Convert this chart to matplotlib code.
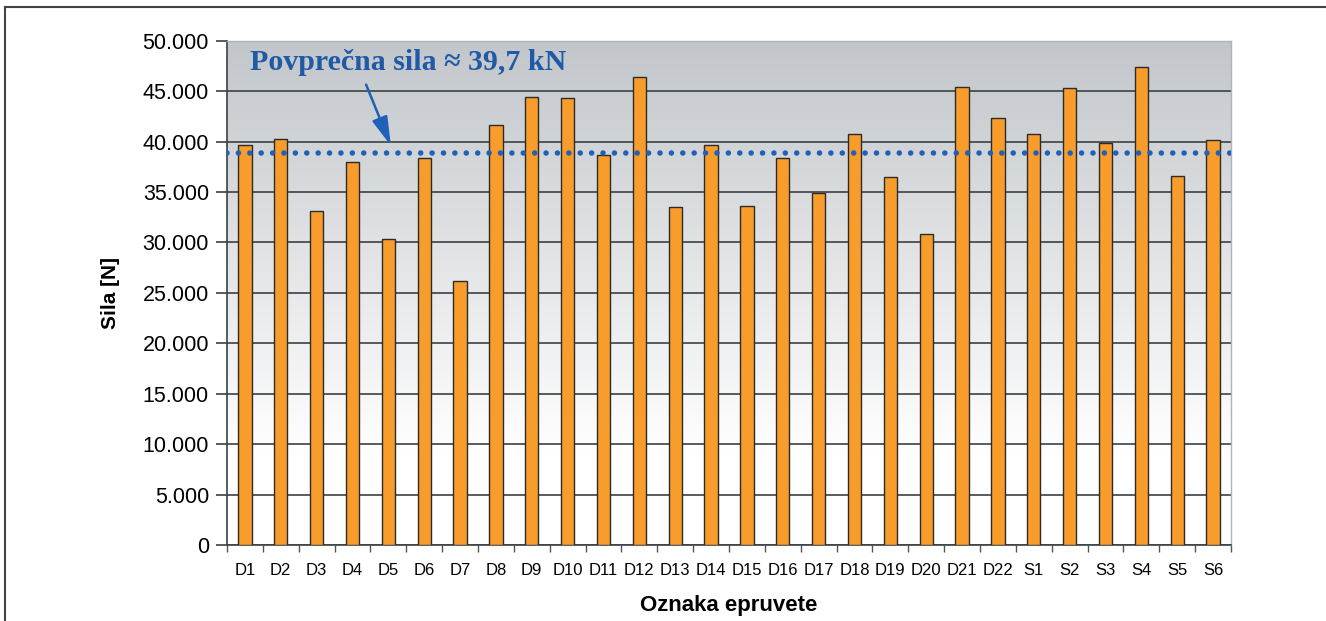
import numpy as np
import matplotlib
matplotlib.use('Agg')
import matplotlib.pyplot as plt
from matplotlib.lines import Line2D
from matplotlib.colors import LinearSegmentedColormap
from matplotlib.ticker import FuncFormatter, MultipleLocator

# measured maximum force per specimen [N]
labels = ['D1', 'D2', 'D3', 'D4', 'D5', 'D6', 'D7', 'D8', 'D9', 'D10', 'D11',
          'D12', 'D13', 'D14', 'D15', 'D16', 'D17', 'D18', 'D19', 'D20', 'D21',
          'D22', 'S1', 'S2', 'S3', 'S4', 'S5', 'S6']
sila = [39700, 40300, 33100, 38000, 30350, 38400, 26200, 41600, 44400, 44300,
        38700, 46400, 33500, 39700, 33600, 38400, 34900, 40700, 36500, 30800,
        45400, 42300, 40700, 45300, 39900, 47400, 36600, 40200]
y_max = 50000
y_step = 5000

fig = plt.figure(figsize=(13.26, 6.21), dpi=100)
ax = fig.add_axes([227 / 1326, 1 - 545 / 621, (1231 - 227) / 1326, (545 - 40.7) / 621])

x = np.arange(len(labels))

# grey-to-white background
top = np.array([194, 198, 202]) / 255
cmap = LinearSegmentedColormap.from_list('bg', [(0.0, 'white'), (0.18, 'white'), (1.0, top)])
grad = np.linspace(0, 1, 256).reshape(-1, 1)
ax.imshow(grad, cmap=cmap, aspect='auto', origin='lower',
          extent=[-0.5, len(labels) - 0.5, 0, y_max], zorder=0)

ax.set_axisbelow(True)
ax.yaxis.grid(True, color='#3c4145', linewidth=1.2, zorder=1)

ax.bar(x, sila, width=0.37, color='#f89c2c', edgecolor='#2b2b2b', linewidth=1.0, zorder=3)

# average line
avg = np.mean(sila)
ax.axhline(avg, color='#2060b8', linewidth=4, linestyle=(0, (0.001, 2.05)),
           dash_capstyle='round', zorder=4)

ax.annotate('', xy=(4.1, avg + 500), xytext=(3.35, 45900),
            arrowprops=dict(arrowstyle='-|>,head_length=0.8,head_width=0.22',
                            mutation_scale=22, color='#2060b8', lw=1.8), zorder=5)
ax.text(0.14, 47800, 'Povprečna sila \u2248 39,7 kN', family='Liberation Serif',
        fontsize=21.5, fontweight='bold', color='#1f5aa6', va='center', ha='left', zorder=5)

ax.set_xlim(-0.5, len(labels) - 0.5)
ax.set_ylim(0, y_max)
ax.yaxis.set_major_locator(MultipleLocator(y_step))
ax.yaxis.set_major_formatter(FuncFormatter(lambda v, p: f'{int(v):,}'.replace(',', '.')))

ax.set_xticks(x)
ax.set_xticklabels(labels, family='Liberation Sans', fontsize=12)
ax.set_xticks(np.arange(-0.5, len(labels)), minor=True)
ax.tick_params(axis='x', which='major', length=0, pad=13)
ax.tick_params(axis='x', which='minor', length=5, width=1, color='#555555', direction='out')
ax.tick_params(axis='y', length=8, width=1.2, color='#3c4145', labelsize=15.5, pad=5)
for t in ax.get_yticklabels():
    t.set_family('Liberation Sans')

for side in ['left', 'bottom']:
    ax.spines[side].set_color('#3c4145')
    ax.spines[side].set_linewidth(1.2)
for side in ['top', 'right']:
    ax.spines[side].set_color('#b0b4b8')
    ax.spines[side].set_linewidth(1.0)

ax.set_ylabel('Sila [N]', family='Liberation Sans', fontsize=15, fontweight='bold', labelpad=16)
ax.set_xlabel('Oznaka epruvete', family='Liberation Sans', fontsize=16, fontweight='bold', labelpad=12)

# frame lines on the left and top of the figure
fig.add_artist(Line2D([4.5 / 1326, 4.5 / 1326], [0, 1 - 7 / 621], color='#444444', lw=1.5))
fig.add_artist(Line2D([4.5 / 1326, 1], [1 - 7 / 621, 1 - 7 / 621], color='#444444', lw=1.5))

fig.savefig('out.png', dpi=100)
